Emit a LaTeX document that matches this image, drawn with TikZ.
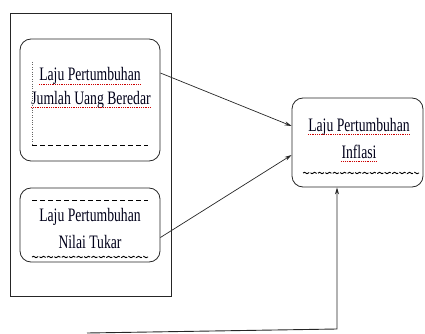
\documentclass[tikz,border=0pt]{standalone}
\usepackage{fontspec}
\setmainfont{Liberation Serif}[FakeStretch=0.72]
\usetikzlibrary{arrows.meta,decorations.pathmorphing}
\tikzset{
  varbox/.style={draw=black!85,line width=0.8pt,rounded corners=11pt,minimum width=140pt},
  lbl/.style={inner sep=0pt,anchor=base,text=black!90!blue,font=\fontsize{19}{23}\selectfont},
  spell/.style={red!80!black,densely dotted,line width=0.8pt},
  dash line/.style={black,dash pattern=on 5pt off 3pt,line width=1pt},
  wavy/.style={black,line width=0.9pt,decorate,decoration={snake,amplitude=0.7pt,segment length=5pt},dash pattern=on 7pt off 1.5pt},
  arr/.style={draw=black!85,line width=0.7pt,-{Stealth[length=7pt,width=4pt]}}
}
\begin{document}
\begin{tikzpicture}[x=1pt,y=-1pt]
  \useasboundingbox (0,0) rectangle (425,334);
  \draw[black!85,line width=0.9pt] (10,13) rectangle (171,296);
  \node[varbox,minimum height=122pt] (jub) at (90,100) {};
  \node[varbox,minimum height=74pt] (kurs) at (90,225) {};
  \node[varbox,minimum width=131pt,minimum height=89pt] (inf) at (357.5,142.5) {};
  \node[lbl] (jub1) at (90,81) {Laju Pertumbuhan};
  \node[lbl] (jub2) at (91,104) {Jumlah Uang Beredar};
  \node[lbl] (kurs1) at (90,221) {Laju Pertumbuhan};
  \node[lbl] (kurs2) at (90,248) {Nilai Tukar};
  \node[lbl] (inf1) at (359,131) {Laju Pertumbuhan};
  \node[lbl] (inf2) at (359,158) {Inflasi};
  \foreach \t in {jub1,jub2,inf1,inf2}
    \draw[spell] ([yshift=-3pt]\t.base west) -- ([yshift=-3pt]\t.base east);
  \draw[black!60,dotted] (32,62) -- (32,145);
  \draw[dash line] (32,145) -- (148,145);
  \draw[dash line] (32,200) -- (148,200);
  \draw[wavy] (32,257) -- (148,257);
  \draw[wavy] (303,173) -- (419,173);
  \draw[arr] ([yshift=27pt]jub.east) -- ([yshift=16.5pt]inf.west);
  \draw[arr] ([yshift=-12.5pt]kurs.east) -- ([yshift=-12.5pt]inf.west);
  \coordinate (ext) at (87,333);
  \coordinate (bend) at (337,329);
  \draw[arr,line width=0.9pt] (ext) -- (bend) -- (bend |- inf.south);
\end{tikzpicture}
\end{document}
